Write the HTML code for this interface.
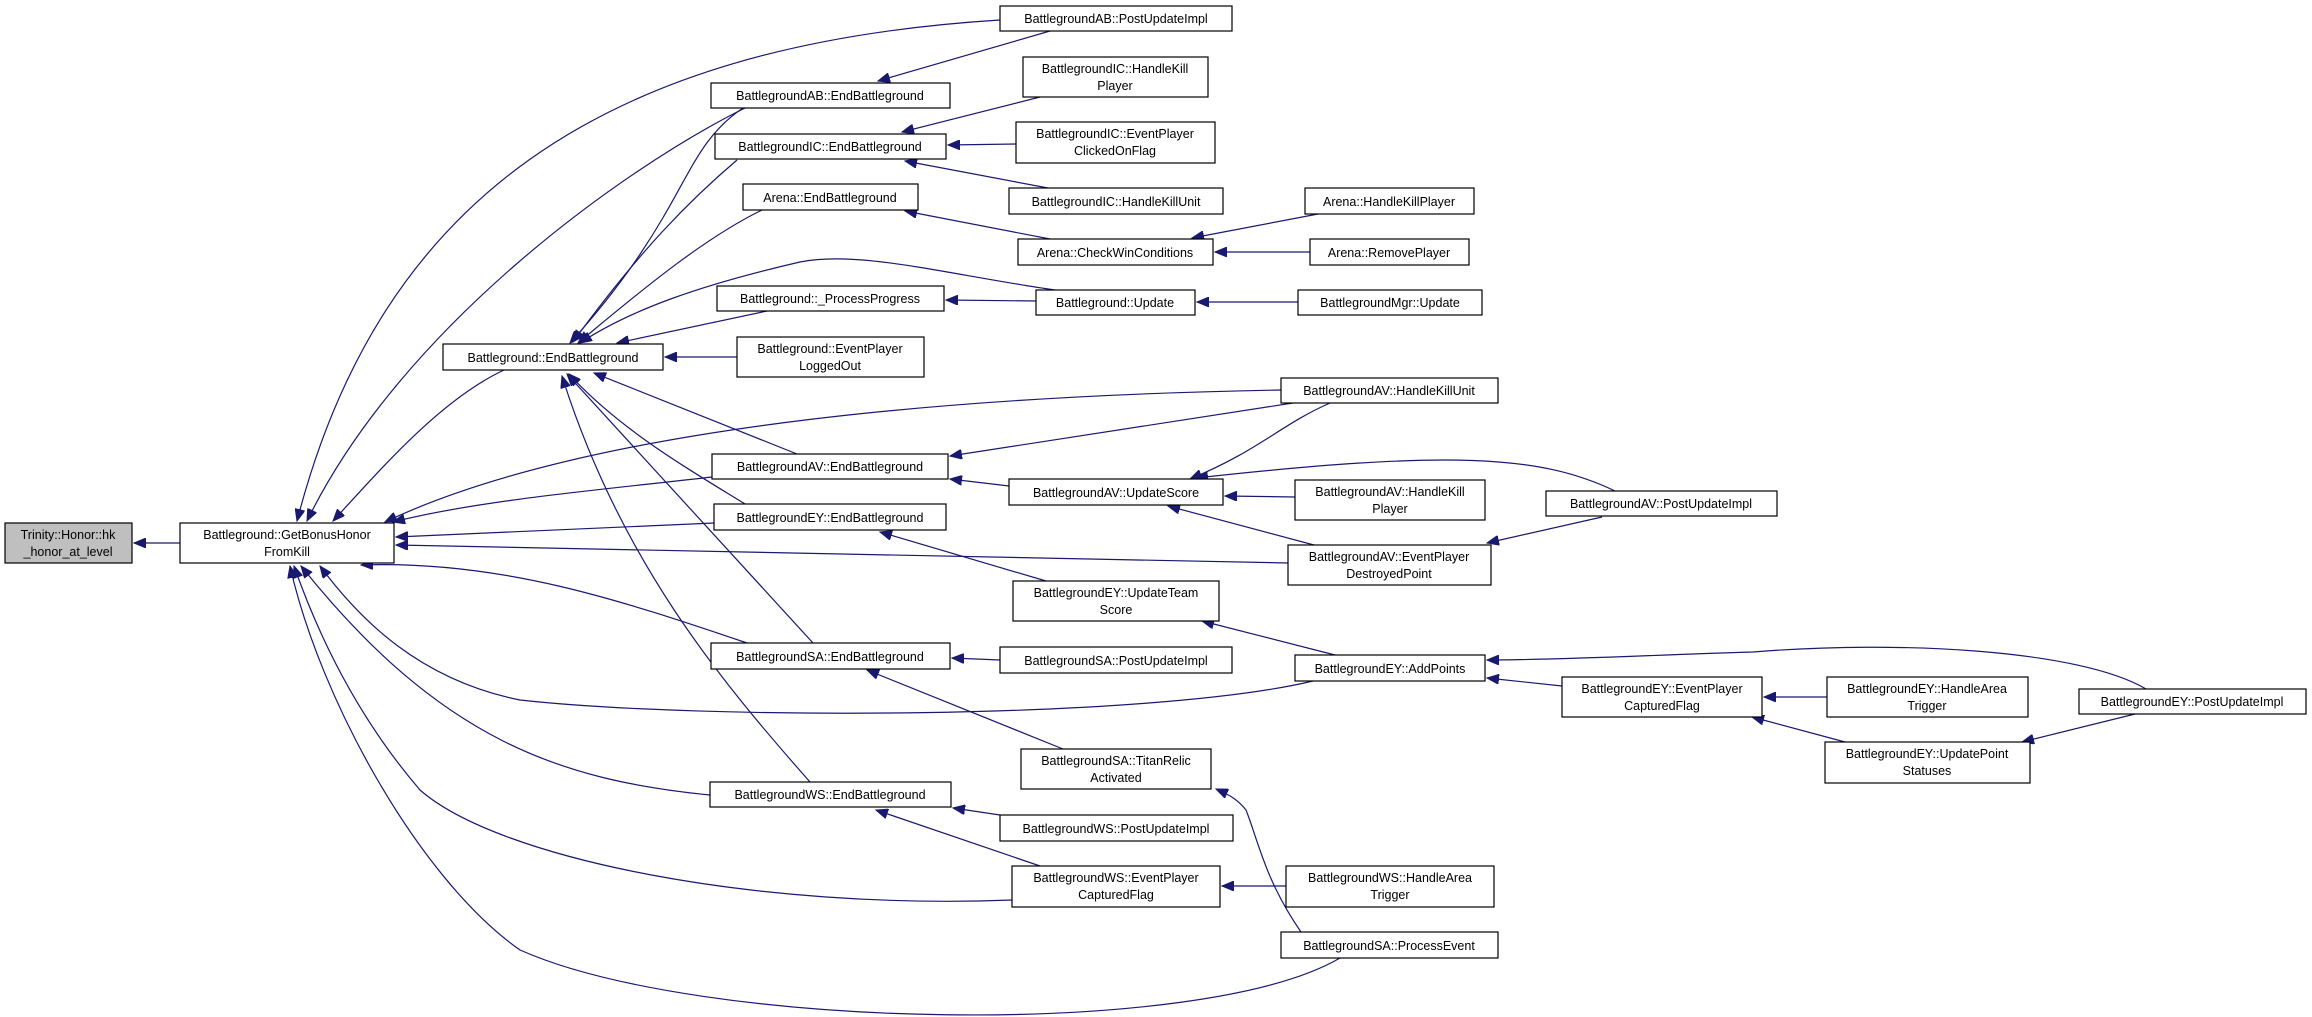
<!DOCTYPE html>
<html><head><meta charset="utf-8"><style>
html,body{margin:0;padding:0;background:#fff;}
svg{display:block;}
text{font-family:"Liberation Sans",sans-serif;font-size:12.5px;fill:#000;text-anchor:middle;}
.b{fill:#fff;stroke:#000;stroke-width:1.2;}
.g{fill:#bfbfbf;stroke:#000;stroke-width:1.2;}
path.e{fill:none;stroke:#191970;stroke-width:1.2;marker-end:url(#a);}
</style></head><body>
<svg width="2312" height="1017" viewBox="0 0 2312 1017" xmlns="http://www.w3.org/2000/svg">
<defs><marker id="a" markerUnits="userSpaceOnUse" markerWidth="14" markerHeight="10" refX="12" refY="5" orient="auto"><path d="M0,0 L12,5 L0,10 z" fill="#191970" stroke="#191970"/></marker></defs>

<!-- edges -->
<path class="e" d="M180,543 L134,543"/>
<path class="e" d="M1000,20 C600,45 380,200 297,521"/>
<path class="e" d="M745,108 C620,170 400,330 307,521"/>
<path class="e" d="M504,370 C440,400 380,470 333,521"/>
<path class="e" d="M1281,390 C1000,395 600,420 385,522"/>
<path class="e" d="M712,477 C600,490 480,500 393,522"/>
<path class="e" d="M714,523 L396,537"/>
<path class="e" d="M1288,563 L396,545"/>
<path class="e" d="M747,643 C620,600 500,560 361,565"/>
<path class="e" d="M1313,681 C1150,720 700,720 520,700 C420,680 360,620 320,566"/>
<path class="e" d="M710,795 C560,780 440,740 301,566"/>
<path class="e" d="M1012,900 C760,910 500,860 420,790 C360,720 320,640 294,566"/>
<path class="e" d="M1340,958 C1200,1040 700,1030 520,950 C420,880 320,700 290,566"/>

<path class="e" d="M1050,31 L878,81"/>
<path class="e" d="M1040,97 L902,132"/>
<path class="e" d="M1016,144 L948,145"/>
<path class="e" d="M1048,188 L905,161"/>
<path class="e" d="M1318,214 L1192,238"/>
<path class="e" d="M1310,252 L1215,252"/>
<path class="e" d="M1050,239 L905,211"/>
<path class="e" d="M1298,302 L1197,302"/>
<path class="e" d="M1036,301 L946,300"/>
<path class="e" d="M1055,290 C950,275 860,250 800,262 C700,285 630,310 580,343"/>
<path class="e" d="M767,311 L617,343"/>
<path class="e" d="M737,357 L665,357"/>
<path class="e" d="M743,108 C680,150 690,210 570,343"/>
<path class="e" d="M737,160 C690,200 640,250 573,342"/>
<path class="e" d="M762,210 C700,240 630,300 578,343"/>
<path class="e" d="M797,454 L594,373"/>
<path class="e" d="M745,504 C690,470 620,430 569,374"/>
<path class="e" d="M813,643 L567,374"/>
<path class="e" d="M810,782 C720,680 620,560 562,376"/>

<path class="e" d="M1293,403 L950,456"/>
<path class="e" d="M1009,486 L950,479"/>
<path class="e" d="M1330,403 C1280,425 1260,450 1190,479"/>
<path class="e" d="M1615,491 C1540,455 1450,450 1196,478"/>
<path class="e" d="M1295,497 L1225,496"/>
<path class="e" d="M1314,545 L1168,506"/>
<path class="e" d="M1602,517 L1487,543"/>
<path class="e" d="M1046,581 L880,532"/>
<path class="e" d="M1335,655 L1202,621"/>
<path class="e" d="M1562,686 L1487,678"/>
<path class="e" d="M2146,689 C2080,650 1900,640 1753,652 C1650,655 1560,660 1487,660"/>
<path class="e" d="M1827,697 L1764,697"/>
<path class="e" d="M1845,742 L1752,717"/>
<path class="e" d="M2135,714 L2022,742"/>
<path class="e" d="M1000,660 L952,658"/>
<path class="e" d="M1063,749 L867,670"/>
<path class="e" d="M1301,932 C1265,880 1258,840 1246,810 C1238,800 1230,795 1216,789"/>
<path class="e" d="M1000,815 L953,808"/>
<path class="e" d="M1040,866 L876,810"/>
<path class="e" d="M1286,886 L1222,886"/>

<!-- nodes -->
<rect class="g" x="5" y="523" width="127" height="40"/><text x="68" y="539">Trinity::Honor::hk</text><text x="68" y="556">_honor_at_level</text>
<rect class="b" x="180" y="523" width="214" height="40"/><text x="287" y="539">Battleground::GetBonusHonor</text><text x="287" y="556">FromKill</text>
<rect class="b" x="443" y="344" width="220" height="26"/><text x="553" y="362">Battleground::EndBattleground</text>
<rect class="b" x="711" y="83" width="239" height="25"/><text x="830" y="100">BattlegroundAB::EndBattleground</text>
<rect class="b" x="715" y="134" width="231" height="25"/><text x="830" y="151">BattlegroundIC::EndBattleground</text>
<rect class="b" x="743" y="184" width="175" height="26"/><text x="830" y="202">Arena::EndBattleground</text>
<rect class="b" x="717" y="286" width="227" height="25"/><text x="830" y="303">Battleground::_ProcessProgress</text>
<rect class="b" x="737" y="337" width="187" height="40"/><text x="830" y="353">Battleground::EventPlayer</text><text x="830" y="370">LoggedOut</text>
<rect class="b" x="712" y="454" width="236" height="25"/><text x="830" y="471">BattlegroundAV::EndBattleground</text>
<rect class="b" x="714" y="504" width="232" height="26"/><text x="830" y="522">BattlegroundEY::EndBattleground</text>
<rect class="b" x="711" y="643" width="239" height="26"/><text x="830" y="661">BattlegroundSA::EndBattleground</text>
<rect class="b" x="710" y="782" width="241" height="25"/><text x="830" y="799">BattlegroundWS::EndBattleground</text>

<rect class="b" x="1000" y="6" width="232" height="25"/><text x="1116" y="23">BattlegroundAB::PostUpdateImpl</text>
<rect class="b" x="1023" y="57" width="185" height="40"/><text x="1115" y="73">BattlegroundIC::HandleKill</text><text x="1115" y="90">Player</text>
<rect class="b" x="1016" y="122" width="199" height="41"/><text x="1115" y="138">BattlegroundIC::EventPlayer</text><text x="1115" y="155">ClickedOnFlag</text>
<rect class="b" x="1009" y="188" width="214" height="26"/><text x="1116" y="206">BattlegroundIC::HandleKillUnit</text>
<rect class="b" x="1018" y="239" width="195" height="26"/><text x="1115" y="257">Arena::CheckWinConditions</text>
<rect class="b" x="1036" y="290" width="159" height="25"/><text x="1115" y="307">Battleground::Update</text>
<rect class="b" x="1305" y="188" width="169" height="26"/><text x="1389" y="206">Arena::HandleKillPlayer</text>
<rect class="b" x="1310" y="239" width="159" height="26"/><text x="1389" y="257">Arena::RemovePlayer</text>
<rect class="b" x="1298" y="290" width="184" height="25"/><text x="1390" y="307">BattlegroundMgr::Update</text>
<rect class="b" x="1281" y="378" width="217" height="25"/><text x="1389" y="395">BattlegroundAV::HandleKillUnit</text>
<rect class="b" x="1009" y="479" width="214" height="26"/><text x="1116" y="497">BattlegroundAV::UpdateScore</text>
<rect class="b" x="1295" y="480" width="190" height="40"/><text x="1390" y="496">BattlegroundAV::HandleKill</text><text x="1390" y="513">Player</text>
<rect class="b" x="1546" y="491" width="231" height="25"/><text x="1661" y="508">BattlegroundAV::PostUpdateImpl</text>
<rect class="b" x="1288" y="545" width="203" height="40"/><text x="1389" y="561">BattlegroundAV::EventPlayer</text><text x="1389" y="578">DestroyedPoint</text>
<rect class="b" x="1013" y="581" width="206" height="40"/><text x="1116" y="597">BattlegroundEY::UpdateTeam</text><text x="1116" y="614">Score</text>
<rect class="b" x="1000" y="647" width="232" height="26"/><text x="1116" y="665">BattlegroundSA::PostUpdateImpl</text>
<rect class="b" x="1295" y="655" width="190" height="26"/><text x="1390" y="673">BattlegroundEY::AddPoints</text>
<rect class="b" x="1562" y="677" width="200" height="40"/><text x="1662" y="693">BattlegroundEY::EventPlayer</text><text x="1662" y="710">CapturedFlag</text>
<rect class="b" x="1827" y="677" width="201" height="40"/><text x="1927" y="693">BattlegroundEY::HandleArea</text><text x="1927" y="710">Trigger</text>
<rect class="b" x="2079" y="689" width="227" height="25"/><text x="2192" y="706">BattlegroundEY::PostUpdateImpl</text>
<rect class="b" x="1825" y="742" width="205" height="41"/><text x="1927" y="758">BattlegroundEY::UpdatePoint</text><text x="1927" y="775">Statuses</text>
<rect class="b" x="1021" y="749" width="190" height="40"/><text x="1116" y="765">BattlegroundSA::TitanRelic</text><text x="1116" y="782">Activated</text>
<rect class="b" x="1000" y="815" width="233" height="26"/><text x="1116" y="833">BattlegroundWS::PostUpdateImpl</text>
<rect class="b" x="1012" y="866" width="208" height="41"/><text x="1116" y="882">BattlegroundWS::EventPlayer</text><text x="1116" y="899">CapturedFlag</text>
<rect class="b" x="1286" y="866" width="208" height="41"/><text x="1390" y="882">BattlegroundWS::HandleArea</text><text x="1390" y="899">Trigger</text>
<rect class="b" x="1281" y="932" width="217" height="26"/><text x="1389" y="950">BattlegroundSA::ProcessEvent</text>
</svg>
</body></html>
